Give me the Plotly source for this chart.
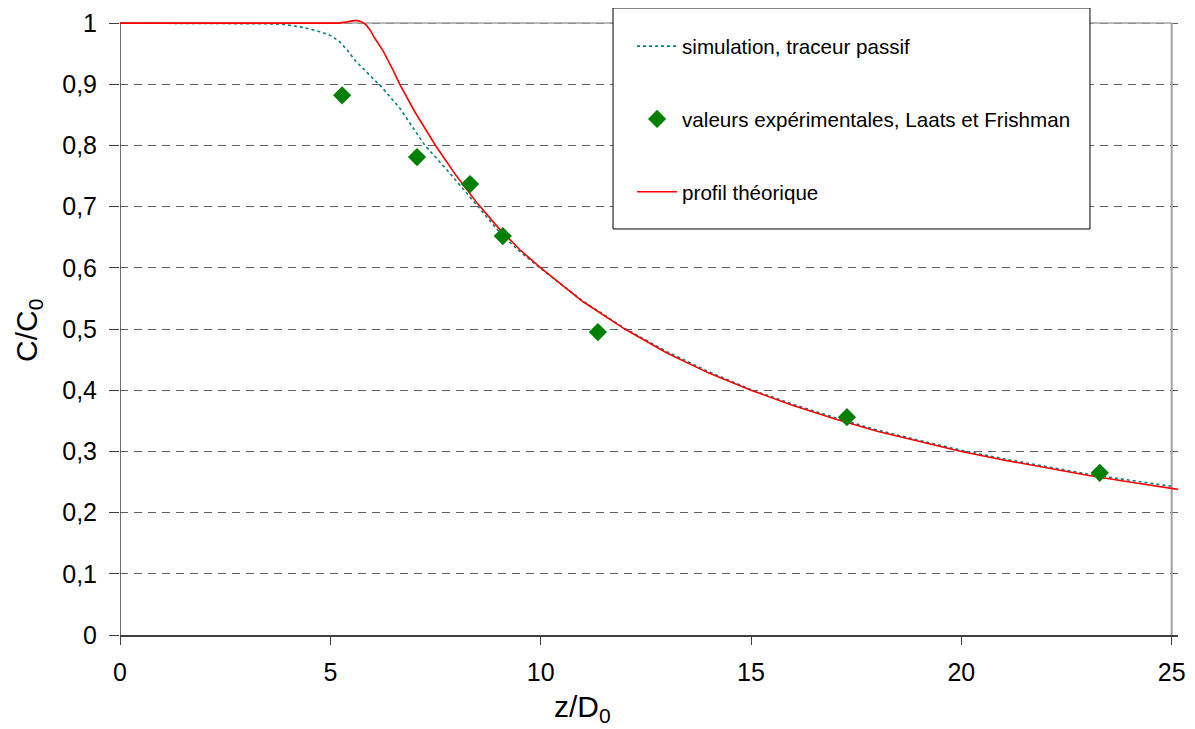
import plotly.graph_objects as go

# simulation, traceur passif
z_sim = [0, 1, 2, 3, 3.5, 3.9, 4.35, 4.75, 5.0, 5.2, 5.4, 5.6, 5.85, 6.2, 6.65, 6.95, 7.25,
         7.85, 8.5, 9.1, 9.5, 10, 11, 12, 13, 14, 15, 16, 17, 18, 19, 20, 21, 22, 23, 24, 25]
c_sim = [1, 1, 1, 1, 0.999, 0.998, 0.993, 0.986, 0.98, 0.971, 0.956, 0.938, 0.921, 0.897,
         0.861, 0.831, 0.8, 0.754, 0.7, 0.652, 0.627, 0.599, 0.546, 0.501, 0.463, 0.43,
         0.401, 0.377, 0.355, 0.335, 0.318, 0.302, 0.288, 0.275, 0.263, 0.253, 0.243]

# valeurs expérimentales, Laats et Frishman
z_exp = [5.28, 7.06, 8.32, 9.1, 11.36, 17.28, 23.29]
c_exp = [0.882, 0.781, 0.737, 0.652, 0.495, 0.356, 0.265]

# profil théorique
z_th = [0, 1, 2, 3, 4, 4.5, 5, 5.2, 5.4, 5.55, 5.65, 5.75, 5.85, 5.95, 6.05, 6.25, 6.5,
        6.65, 7, 7.5, 8, 8.5, 9, 9.5, 10, 11, 12, 13, 14, 15, 16, 17, 18, 19, 20, 21,
        22, 23, 24, 25, 25.15]
c_th = [1, 1, 1, 1, 1, 1, 1, 1.0, 1.002, 1.004, 1.004, 1.002, 0.997, 0.988, 0.976, 0.955,
        0.922, 0.9, 0.856, 0.8, 0.75, 0.705, 0.665, 0.63, 0.6, 0.545, 0.5, 0.461, 0.428,
        0.4, 0.375, 0.353, 0.333, 0.316, 0.3, 0.286, 0.273, 0.261, 0.25, 0.24, 0.238]

x_ticks = [0, 5, 10, 15, 20, 25]
y_ticks = [0, 0.1, 0.2, 0.3, 0.4, 0.5, 0.6, 0.7, 0.8, 0.9, 1]

fig = go.Figure()
fig.add_scatter(x=z_sim, y=c_sim, mode="lines", name="simulation, traceur passif",
                line=dict(color="#008080", width=1.6, dash="dot"), legendgroup="a",
                legendrank=1)
fig.add_scatter(x=z_th, y=c_th, mode="lines", name="profil théorique",
                line=dict(color="#ff0000", width=1.6), legendgroup="c", legendrank=3)
fig.add_scatter(x=z_exp, y=c_exp, mode="markers",
                name="valeurs expérimentales, Laats et Frishman",
                marker=dict(symbol="diamond", color="#008000", size=14), legendgroup="b",
                legendrank=2)

font_family = "Liberation Sans, Arial, sans-serif"
tick_font = dict(family=font_family, size=25, color="black")

# page body has an 8px margin, so the figure is 8px smaller than the window
fig.update_layout(
    width=1187, height=721,
    margin=dict(l=112, r=17, t=9, b=94),
    paper_bgcolor="white", plot_bgcolor="white",
    separators=", ",
    font=dict(family=font_family, color="black"),
    showlegend=True,
    legend=dict(x=0.484, y=0.985, xanchor="left", yanchor="top",
                bgcolor="rgba(0,0,0,0)", borderwidth=0,
                font=dict(size=20.6, color="black"), tracegroupgap=43,
                traceorder="grouped", itemwidth=40),
    xaxis=dict(range=[0, 25.15], tickvals=x_ticks, showgrid=False, automargin=False,
               zeroline=False, showline=True, linecolor="#404040", linewidth=1.5,
               ticks="outside", ticklen=8, tickcolor="#404040", tickfont=tick_font,
               ticklabelstandoff=6),
    yaxis=dict(range=[0, 1.01], tickvals=y_ticks, showgrid=True, gridcolor="#606060",
               griddash="8px,6px", gridwidth=1, zeroline=False, showline=False,
               automargin=False, ticks="outside", ticklen=10, tickcolor="#404040",
               tickfont=tick_font, ticklabelstandoff=7),
    shapes=[
        # plot frame: gray top/right, dark left axis
        dict(type="line", xref="x", yref="y", x0=0, x1=25, y0=1, y1=1,
             line=dict(color="#a0a0a0", width=1.5), layer="between"),
        dict(type="line", xref="x", yref="y", x0=25, x1=25, y0=0, y1=1,
             line=dict(color="#a0a0a0", width=2), layer="between"),
        dict(type="line", xref="x", yref="y", x0=0, x1=0, y0=0, y1=1,
             line=dict(color="#404040", width=1.5), layer="between"),
        # legend box
        dict(type="rect", xref="paper", yref="paper", x0=0.466, x1=0.9168,
             y0=0.657, y1=1.0146, fillcolor="white",
             line=dict(color="black", width=1), layer="above"),
    ],
    annotations=[
        dict(text="z/D<sub>0</sub>", xref="paper", yref="paper", x=0.4376, y=-0.119,
             showarrow=False, font=dict(size=30), xanchor="center", yanchor="middle"),
        dict(text="C/C<sub>0</sub>", xref="paper", yref="paper", x=-0.087, y=0.4935,
             showarrow=False, font=dict(size=30), textangle=-90,
             xanchor="center", yanchor="middle"),
    ],
)

fig.write_html("out.html")
